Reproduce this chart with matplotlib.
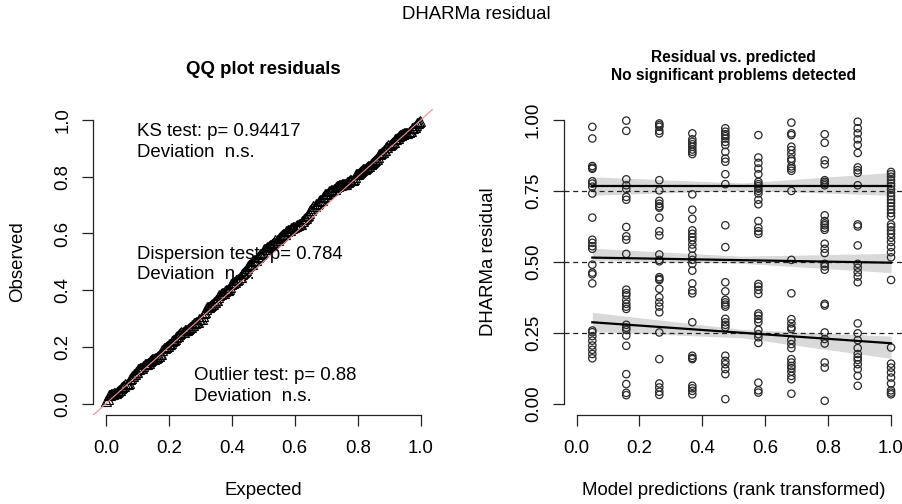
import numpy as np
import matplotlib
matplotlib.use("Agg")
import matplotlib.pyplot as plt

plt.rcParams['font.family'] = ['Liberation Sans', 'DejaVu Sans']

pred_rank = [0.05, 0.158, 0.263, 0.368, 0.473, 0.578, 0.683, 0.789, 0.894, 1.0]

res_g1 = [0.976, 0.935, 0.838, 0.832, 0.828, 0.784, 0.776, 0.765, 0.741, 0.656, 0.578, 0.567,
          0.555, 0.546, 0.490, 0.462, 0.456, 0.424, 0.258, 0.252, 0.238, 0.222, 0.205, 0.190,
          0.175, 0.160]
res_g2 = [0.998, 0.962, 0.791, 0.770, 0.757, 0.729, 0.719, 0.623, 0.590, 0.578, 0.528, 0.402,
          0.390, 0.382, 0.366, 0.352, 0.342, 0.334, 0.278, 0.268, 0.260, 0.240, 0.204, 0.104,
          0.069, 0.038, 0.030]
res_g3 = [0.988, 0.982, 0.976, 0.962, 0.953, 0.788, 0.752, 0.715, 0.705, 0.696, 0.691, 0.656,
          0.608, 0.593, 0.526, 0.507, 0.502, 0.446, 0.440, 0.436, 0.405, 0.375, 0.357, 0.342,
          0.322, 0.251, 0.157, 0.071, 0.057, 0.042, 0.031]
res_g4 = [0.953, 0.932, 0.923, 0.915, 0.906, 0.896, 0.888, 0.880, 0.738, 0.684, 0.652, 0.611,
          0.599, 0.587, 0.576, 0.561, 0.546, 0.522, 0.507, 0.493, 0.469, 0.424, 0.399, 0.389,
          0.287, 0.169, 0.161, 0.157, 0.063, 0.054, 0.045, 0.033]
res_g5 = [0.971, 0.959, 0.950, 0.943, 0.935, 0.923, 0.912, 0.888, 0.864, 0.853, 0.809, 0.774,
          0.629, 0.552, 0.428, 0.396, 0.366, 0.357, 0.349, 0.342, 0.299, 0.287, 0.278, 0.269,
          0.169, 0.151, 0.139, 0.122, 0.104, 0.016]
res_g6 = [0.947, 0.868, 0.849, 0.829, 0.809, 0.782, 0.774, 0.767, 0.758, 0.750, 0.741, 0.719,
          0.703, 0.644, 0.620, 0.608, 0.599, 0.422, 0.413, 0.401, 0.387, 0.318, 0.310, 0.298,
          0.287, 0.260, 0.245, 0.234, 0.214, 0.074, 0.047, 0.039]
res_g7 = [0.991, 0.953, 0.947, 0.906, 0.894, 0.880, 0.864, 0.856, 0.837, 0.829, 0.821, 0.750,
          0.507, 0.389, 0.298, 0.283, 0.269, 0.263, 0.224, 0.210, 0.196, 0.157, 0.145, 0.133,
          0.125, 0.113, 0.098, 0.086, 0.035]
res_g8 = [0.950, 0.920, 0.858, 0.844, 0.788, 0.782, 0.776, 0.770, 0.664, 0.644, 0.635, 0.629,
          0.620, 0.613, 0.564, 0.546, 0.531, 0.493, 0.484, 0.472, 0.352, 0.346, 0.251, 0.228,
          0.212, 0.145, 0.127, 0.010]
res_g9 = [0.994, 0.971, 0.953, 0.932, 0.912, 0.884, 0.833, 0.823, 0.814, 0.770, 0.632, 0.625,
          0.558, 0.493, 0.479, 0.463, 0.448, 0.428, 0.283, 0.248, 0.224, 0.196, 0.175, 0.163,
          0.154, 0.139, 0.122, 0.098, 0.063]
res_g10 = [0.817, 0.809, 0.800, 0.788, 0.776, 0.767, 0.755, 0.743, 0.731, 0.719, 0.708, 0.696,
           0.684, 0.672, 0.660, 0.632, 0.623, 0.611, 0.599, 0.585, 0.570, 0.552, 0.534, 0.516,
           0.436, 0.198, 0.141, 0.127, 0.110, 0.092, 0.071, 0.047, 0.039, 0.033]

groups = [res_g1, res_g2, res_g3, res_g4, res_g5, res_g6, res_g7, res_g8, res_g9, res_g10]

# quantile regression fits: x at left, middle, right end
fit_x = [0.05, 0.525, 1.0]
quantiles = [0.25, 0.5, 0.75]
q25_fit = [0.287, 0.250, 0.213]
q25_hi = [0.322, 0.262, 0.238]
q25_lo = [0.255, 0.232, 0.160]
q50_fit = [0.515, 0.506, 0.497]
q50_hi = [0.548, 0.520, 0.530]
q50_lo = [0.505, 0.495, 0.462]
q75_fit = [0.767, 0.767, 0.767]
q75_hi = [0.800, 0.778, 0.815]
q75_lo = [0.735, 0.752, 0.735]

ks_text = ["KS test: p= 0.94417", "Deviation  n.s."]
disp_text = ["Dispersion test: p= 0.784", "Deviation  n.s."]
out_text = ["Outlier test: p= 0.88", "Deviation  n.s."]

FS = 13.4
AXC = '#222222'


def r_axes(ax, ticks, fmt):
    # mimic R base graphics: detached axis lines spanning only the tick range
    ax.set_xlim(-0.04, 1.04)
    ax.set_ylim(-0.04, 1.04)
    for s in ['top', 'right']:
        ax.spines[s].set_visible(False)
    ax.spines['left'].set_bounds(0, 1)
    ax.spines['bottom'].set_bounds(0, 1)
    for s in ['left', 'bottom']:
        ax.spines[s].set_color(AXC)
        ax.spines[s].set_linewidth(0.9)
    ax.set_xticks(np.arange(0, 1.01, 0.2))
    ax.set_xticklabels([f"{v:.1f}" for v in np.arange(0, 1.01, 0.2)])
    ax.set_yticks(ticks)
    ax.set_yticklabels([fmt.format(v) for v in ticks], rotation=90, va='center')
    ax.tick_params(direction='out', length=8, width=0.9, color=AXC,
                   labelsize=FS, pad=8)
    ax.tick_params(axis='x', pad=10)


fig = plt.figure(figsize=(9.03, 5.04), dpi=100)
ax1 = fig.add_axes([0.1034, 0.1766, 0.3764, 0.6077])
ax2 = fig.add_axes([0.6246, 0.1766, 0.3761, 0.6077])

# --- QQ plot ---
all_res = np.sort(np.concatenate([np.array(g) for g in groups]))
n = len(all_res)
expected = (np.arange(1, n + 1) - 0.5) / n
ax1.plot(expected, all_res, linestyle='none', marker='^', markersize=6.5,
         markerfacecolor='none', markeredgecolor='black', markeredgewidth=0.8, zorder=2)
ax1.axline((0, 0), slope=1, color='#e8909a', lw=0.8, zorder=3)
r_axes(ax1, np.arange(0, 1.01, 0.2), "{:.1f}")
ax1.set_title("QQ plot residuals", fontsize=FS, fontweight='bold', pad=25)
ax1.set_xlabel("Expected", fontsize=FS, labelpad=18)
ax1.set_ylabel("Observed", fontsize=FS, labelpad=20)

for lines, x0, ys in [(ks_text, 0.098, (0.961, 0.885)),
                      (disp_text, 0.098, (0.527, 0.456)),
                      (out_text, 0.28, (0.100, 0.026))]:
    for t, y in zip(lines, ys):
        ax1.text(x0, y, t, fontsize=FS, ha='left', va='center', zorder=5)

# --- residual vs predicted ---
fits = [(q25_fit, q25_lo, q25_hi), (q50_fit, q50_lo, q50_hi), (q75_fit, q75_lo, q75_hi)]
for fit, lo, hi in fits:
    ax2.fill_between(fit_x, lo, hi, color='#d9d9d9', lw=0, zorder=1)
for q in quantiles:
    ax2.axhline(q, color=AXC, lw=0.9, ls=(0, (4, 3)), zorder=2)
for fit, lo, hi in fits:
    ax2.plot(fit_x, fit, color='black', lw=1.6, zorder=4)
for x, g in zip(pred_rank, groups):
    ax2.scatter([x] * len(g), g, s=28, facecolors='none', edgecolors='#2a2a2a',
                linewidths=0.9, zorder=3)
r_axes(ax2, [0, 0.25, 0.5, 0.75, 1.0], "{:.2f}")
ax2.set_title("Residual vs. predicted\nNo significant problems detected",
              fontsize=11.2, fontweight='bold', pad=21, linespacing=1.2)
ax2.set_xlabel("Model predictions (rank transformed)", fontsize=FS, labelpad=18)
ax2.set_ylabel("DHARMa residual", fontsize=FS, labelpad=20)

fig.text(0.527, 0.972, "DHARMa residual", fontsize=FS, ha='center', va='center')

fig.savefig("out.png", dpi=100)
